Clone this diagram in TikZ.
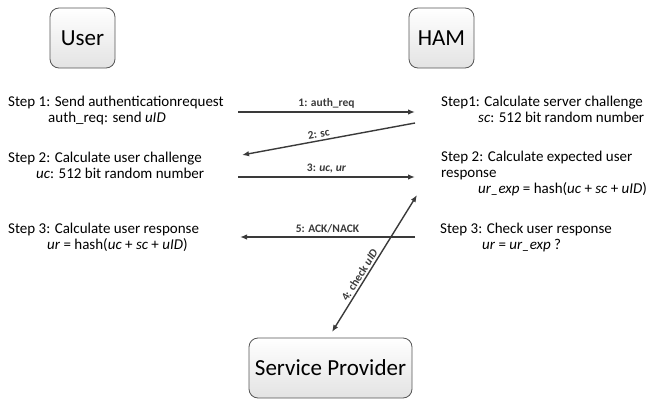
\documentclass[tikz,border=0pt]{standalone}
\usepackage{fontspec}
\setmainfont{Carlito}
\usetikzlibrary{arrows.meta,positioning}
\definecolor{ink}{HTML}{3A3A3A}
\definecolor{frame}{HTML}{555555}

\begin{document}
\begin{tikzpicture}[x=1pt, y=-1pt,
  party/.style={draw=frame, line width=0.8pt, rounded corners=9pt, top color=white, bottom color=gray!22, minimum height=60pt, inner sep=0pt, font=\fontsize{23}{27}\selectfont},
  steptext/.style={anchor=base west, align=left, inner sep=0pt, font=\fontsize{15}{15.8}\selectfont},
  msg/.style={inner sep=1pt, font=\fontsize{11.5}{13}\selectfont\bfseries},
  arr/.style={-{Latex[length=7pt,width=5.5pt]}, ink, line width=1.4pt}
]
\useasboundingbox (0,0) rectangle (651,399);

% the three parties
\node[party, minimum width=65pt] (user) at (82.5,38) {User};
\node[party, minimum width=65pt] (ham) at (441.5,38) {HAM};
\node[party, minimum width=163pt] (sp) at (330.5,368) {Service Provider};

% user side (anchored at the last line)
\node[steptext] (ustep1) at (8,122) {Step 1: Send authenticationrequest\\\hspace*{40pt}auth\_req: send \textit{uID}};
\node[steptext] (ustep2) at (8,178) {Step 2: Calculate user challenge\\\hspace*{28pt}\textit{uc}: 512 bit random number};
\node[steptext] (ustep3) at (8,249) {Step 3: Calculate user response\\\hspace*{39pt}\textit{ur} = hash(\textit{uc} + \textit{sc} + \textit{uID})};

% HAM side
\node[steptext] (hstep1) at (441,122) {Step1: Calculate server challenge\\\hspace*{37pt}\textit{sc}: 512 bit random number};
\node[steptext] (hstep2) at (441,193) {Step 2: Calculate expected user\\response\\\hspace*{37pt}\textit{ur\_exp} = hash(\textit{uc} + \textit{sc} + \textit{uID})};
\node[steptext] (hstep3) at (440,249) {Step 3: Check user response\\\hspace*{42pt}\textit{ur} = \textit{ur\_exp} ?};

% message ends
\coordinate (m1a) at (238,112);  \coordinate (m1b) at (415,112);
\coordinate (m2a) at (415,123);  \coordinate (m2b) at (242,155);
\coordinate (m3a) at (238,177);  \coordinate (m3b) at (415,177);
\coordinate (m5a) at (415,237);  \coordinate (m5b) at (240,237);
\coordinate (m4a) at (332,332);  \coordinate (m4b) at (417,195);

\draw[arr] (m1a) -- node[msg, above=2pt] {1: auth\_req} (m1b);
\draw[arr] (m2a) -- node[msg, pos=0.55, sloped, above=1pt] {2: sc} (m2b);
\draw[arr] (m3a) -- node[msg, above=2pt] {3: \textit{uc, ur}} (m3b);
\draw[arr, {Latex[length=7pt,width=5.5pt]}-{Latex[length=7pt,width=5.5pt]}] (m4a) -- node[msg, pos=0.39, sloped, above=1pt] {4: check \textit{uID}} (m4b);
\draw[arr] (m5a) -- node[msg, above=2pt] {5: ACK/NACK} (m5b);
\end{tikzpicture}
\end{document}
